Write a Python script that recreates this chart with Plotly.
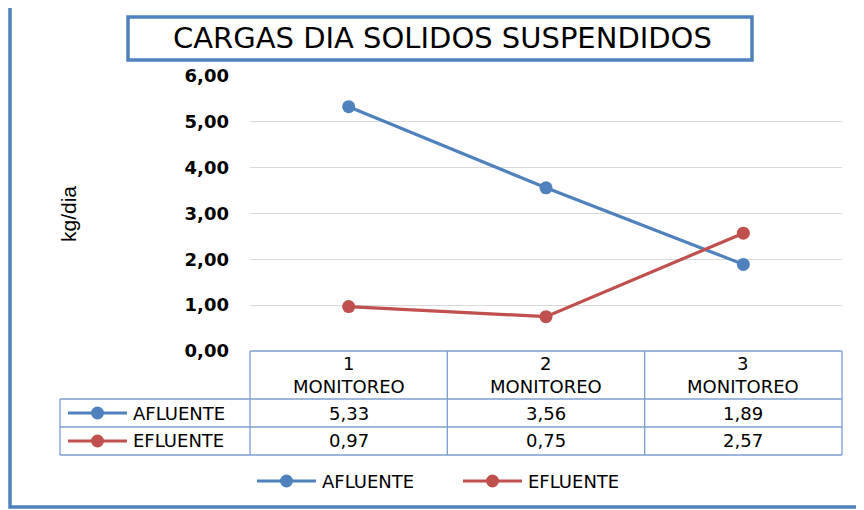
import plotly.graph_objects as go

# ---- data ----
title_text = "CARGAS DIA SOLIDOS SUSPENDIDOS"
y_title = "kg/dia"
categories = ["1 MONITOREO", "2 MONITOREO", "3 MONITOREO"]
series_names = ["AFLUENTE", "EFLUENTE"]
afluente = [5.33, 3.56, 1.89]
efluente = [0.97, 0.75, 2.57]
series_values = [afluente, efluente]
series_colors = ["#4F81BD", "#C0504D"]
y_ticks = [0, 1, 2, 3, 4, 5, 6]

# ---- layout geometry (pixels, reference coordinates) ----
OFF = 8  # page body margin offset
W, H = 864, 510
L, R, T, B = 250, 842, 76, 351
PW, PH = R - L, B - T


def px(x):
    return (x - L) / PW


def py(y):
    return (B - y) / PH


fig = go.Figure()
for name, vals, col in zip(series_names, series_values, series_colors):
    fig.add_trace(go.Scatter(
        x=list(range(len(categories))), y=vals, name=name, mode="lines+markers",
        line=dict(color=col, width=3.2), marker=dict(color=col, size=13),
        cliponaxis=False, showlegend=False))

shapes = []
ann = []
border_col = "#4F81BD"
tbl_col = "#7B9FCF"

# outer chart border
shapes.append(dict(type="rect", xref="paper", yref="paper",
                   x0=px(10), x1=px(880), y0=py(3), y1=py(507),
                   line=dict(color=border_col, width=3.5)))
# title box
shapes.append(dict(type="rect", xref="paper", yref="paper",
                   x0=px(128), x1=px(752), y0=py(17), y1=py(60),
                   line=dict(color=border_col, width=3.5), fillcolor="white"))
ann.append(dict(text=title_text, xref="paper", yref="paper", x=px(442), y=py(38.5),
                showarrow=False, xanchor="center", yanchor="middle",
                font=dict(family="DejaVu Sans", size=29, color="#000000")))
# y title
ann.append(dict(text=y_title, xref="paper", yref="paper", x=px(68), y=py(214),
                showarrow=False, textangle=-90, xanchor="center", yanchor="middle",
                font=dict(family="Liberation Sans Narrow, Liberation Sans", size=21, color="#000000")))

# data table
ncol = len(categories)
cw = PW / ncol
col_edges = [L + i * cw for i in range(ncol + 1)]
row_y = [351, 399, 427, 455]
line = dict(color=tbl_col, width=1.3)


def hline(x0, x1, y):
    shapes.append(dict(type="line", xref="paper", yref="paper", x0=px(x0), x1=px(x1),
                       y0=py(y), y1=py(y), line=line))


def vline(x, y0, y1):
    shapes.append(dict(type="line", xref="paper", yref="paper", x0=px(x), x1=px(x),
                       y0=py(y0), y1=py(y1), line=line))


hline(L, R, row_y[0])
for yy in row_y[1:]:
    hline(60, R, yy)
for xx in col_edges:
    vline(xx, row_y[0], row_y[3])
vline(60, row_y[1], row_y[3])

tfont = dict(family="DejaVu Sans", size=18, color="#000000")
for i, c in enumerate(categories):
    cx = L + (i + 0.5) * cw
    ann.append(dict(text=c.replace(" ", "<br>"), xref="paper", yref="paper", x=px(cx),
                    y=py(375), showarrow=False, xanchor="center", yanchor="middle", font=tfont))
    for r, vals in enumerate(series_values):
        cy = (row_y[r + 1] + row_y[r + 2]) / 2
        ann.append(dict(text=f"{vals[i]:.2f}".replace(".", ","), xref="paper", yref="paper",
                        x=px(cx), y=py(cy), showarrow=False, xanchor="center",
                        yanchor="middle", font=tfont))


def legend_key(x0, x1, y, col):
    shapes.append(dict(type="line", xref="paper", yref="paper", x0=px(x0), x1=px(x1),
                       y0=py(y), y1=py(y), line=dict(color=col, width=3.2)))
    xc = (x0 + x1) / 2
    shapes.append(dict(type="circle", xref="paper", yref="paper", xsizemode="pixel",
                       ysizemode="pixel", xanchor=px(xc), yanchor=py(y),
                       x0=-6.5, x1=6.5, y0=-6.5, y1=6.5, fillcolor=col,
                       line=dict(color=col, width=0)))


for r, (name, col) in enumerate(zip(series_names, series_colors)):
    cy = (row_y[r + 1] + row_y[r + 2]) / 2
    legend_key(68, 127, cy, col)
    ann.append(dict(text=name, xref="paper", yref="paper", x=px(131), y=py(cy),
                    showarrow=False, xanchor="left", yanchor="middle", font=tfont))

# bottom legend
leg_x = [257, 463]
for (name, col, lx) in zip(series_names, series_colors, leg_x):
    legend_key(lx, lx + 59, 481, col)
    ann.append(dict(text=name, xref="paper", yref="paper", x=px(lx + 63), y=py(481),
                    showarrow=False, xanchor="left", yanchor="middle", font=tfont))

fig.update_layout(
    width=W, height=H,
    margin=dict(l=L - OFF, r=W - R + OFF, t=T - OFF, b=H - B + OFF),
    paper_bgcolor="white", plot_bgcolor="white", separators=",.",
    shapes=shapes, annotations=ann, showlegend=False,
    xaxis=dict(range=[-0.5, ncol - 0.5], showticklabels=False, showgrid=False,
               zeroline=False, showline=False, fixedrange=True),
    yaxis=dict(range=[0, 6], tickvals=y_ticks, tickformat=".2f", showgrid=True,
               gridcolor="#D9D9D9", gridwidth=1.2, zeroline=False, showline=False,
               ticks="", ticklabelstandoff=20,
               tickfont=dict(family="DejaVu Sans", size=18, color="#000000", weight="bold")),
)

fig.write_html("out.html")
